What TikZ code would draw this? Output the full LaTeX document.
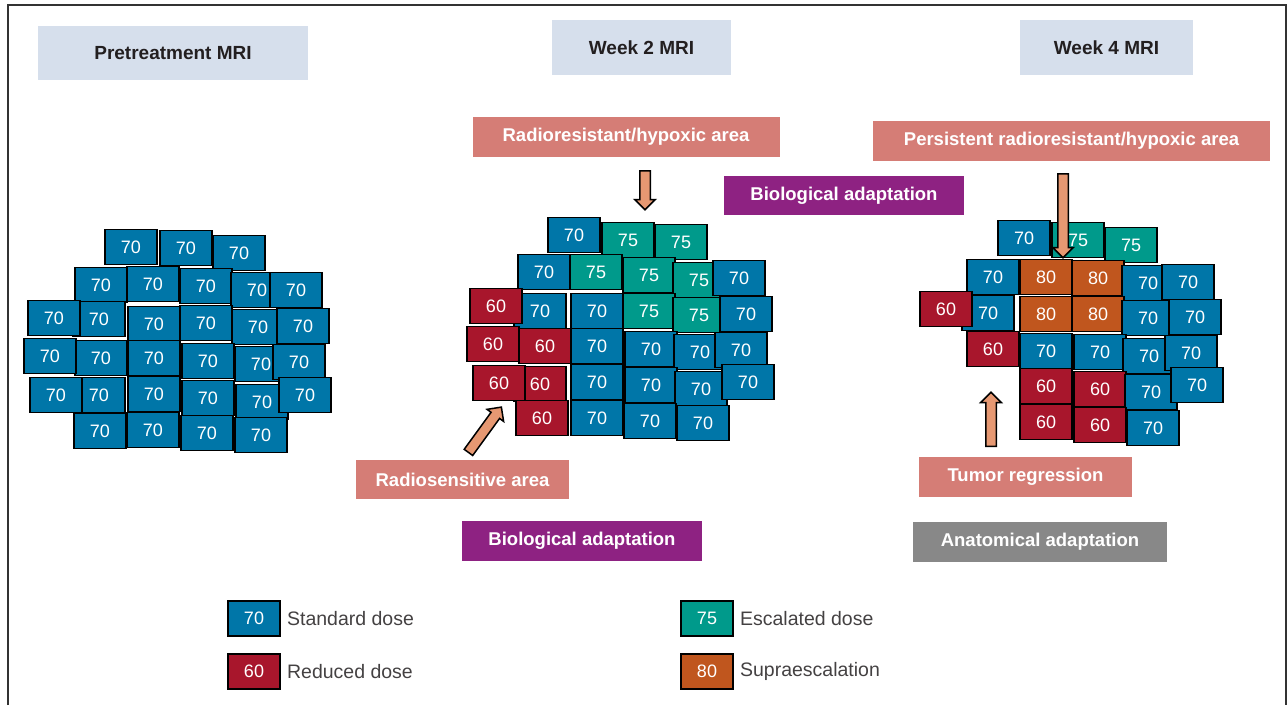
\documentclass[tikz,border=0pt]{standalone}
\usepackage{fontspec}
\setmainfont{Liberation Sans}
\usetikzlibrary{positioning, shapes.arrows}
\definecolor{dose70}{HTML}{0076A8}
\definecolor{dose75}{HTML}{009A8B}
\definecolor{dose60}{HTML}{A8162C}
\definecolor{dose80}{HTML}{C0561E}
\definecolor{head area}{HTML}{D6DFEC}
\definecolor{tag pink}{HTML}{D57D76}
\definecolor{tag purple}{HTML}{8E2282}
\definecolor{tag gray}{HTML}{888888}
\definecolor{arrow area}{HTML}{E69872}
\definecolor{text dark}{HTML}{231F20}
\tikzset{
  cell/.style={draw=black, line width=1.8pt, text=white, inner sep=0pt,
    minimum width=52pt, minimum height=35pt, font=\fontsize{18}{18}\selectfont},
  MRIHead/.style={fill=head area, text=text dark, inner sep=0pt,
    font=\bfseries\fontsize{19}{22}\selectfont},
  TagBox/.style={text=white, inner sep=0pt, minimum height=40pt,
    font=\bfseries\fontsize{18.5}{22}\selectfont},
  LegendText/.style={text=text dark!85, inner sep=2pt, font=\fontsize{19.5}{22}\selectfont},
  BlockArrow/.style={single arrow, draw=black, line width=1.5pt, fill=arrow area,
    inner xsep=0pt, inner ysep=4.5pt, single arrow head extend=5pt, anchor=tail}
}
\begin{document}
\begin{tikzpicture}[x=1pt, y=-1pt]
  \useasboundingbox (0,0) rectangle (1288,705);
  \draw[line width=1.4pt, black!80] (8,705) -- (8,5) -- (1286,5) -- (1286,705);

  % headers
  \node[MRIHead, minimum width=270pt, minimum height=54pt] (preHead) at (173,53) {Pretreatment MRI};
  \node[MRIHead, minimum width=179pt, minimum height=55pt] (wk2Head) at (641.5,47.5) {Week 2 MRI};
  \node[MRIHead, minimum width=173pt, minimum height=55pt] (wk4Head) at (1106.5,47.5) {Week 4 MRI};

  % pretreatment grid
  \foreach \x/\y/\d [count=\i] in {131/247/70, 186/248/70, 239/253/70,
      101/285/70, 153/284/70, 206/286/70, 257/290/70, 296/290/70,
      99/319/70, 54/318/70, 154/324/70, 206/323/70, 258/327/70, 303/326/70,
      101/358/70, 50/356/70, 154/358/70, 208/361/70, 261/364/70, 299/362/70,
      99/395/70, 56/395/70, 154/394/70, 208/398/70, 262/402/70, 305/395/70,
      100/431/70, 153/430/70, 207/433/70, 261/435/70}
    \node[cell, fill=dose\d] (pre\i) at (\x,\y) {\d};

  % week 2 grid
  \foreach \x/\y/\d [count=\i] in {574/235/70, 628/240/75, 681/242/75,
      544/272/70, 596/272/75, 649/275/75, 699/280/75, 739/278/70,
      540/311/70, 496/306/60, 597/311/70, 649/311/75, 699/315/75, 746/314/70,
      493/344/60, 545/346/60, 597/346/70, 651/349/70, 700/352/70, 741/350/70,
      540/384/60, 499/383/60, 597/382/70, 651/385/70, 701/389/70, 748/382/70,
      542/418/60, 597/418/70, 650/421/70, 703/423/70}
    \node[cell, fill=dose\d] (wkb\i) at (\x,\y) {\d};

  % week 4 grid
  \foreach \x/\y/\d [count=\i] in {1024/238/70, 1078/240/75, 1131/245/75,
      993/277/70, 1046/277/80, 1098/278/80, 1148/283/70, 1188/282/70,
      988/313/70, 946/309/60, 1046/314/80, 1098/314/80, 1148/318/70, 1195/317/70,
      993/349/60, 1046/351/70, 1100/352/70, 1149/356/70, 1191/353/70,
      1046/386/60, 1100/389/60, 1151/392/70, 1197/385/70,
      1046/422/60, 1100/425/60, 1153/428/70}
    \node[cell, fill=dose\d] (wkd\i) at (\x,\y) {\d};

  % tags
  \node[TagBox, fill=tag pink, minimum width=307pt] (hypoxTag) at (626,137) {Radioresistant/hypoxic area};
  \node[TagBox, fill=tag pink, minimum width=397pt] (persistTag) at (1071.5,141) {Persistent radioresistant/hypoxic area};
  \node[TagBox, fill=tag purple, minimum width=240pt, minimum height=39pt] (bioTop) at (844,195.5) {Biological adaptation};
  \node[TagBox, fill=tag pink, minimum width=213pt, minimum height=39pt] (sensTag) at (462.5,479.5) {Radiosensitive area};
  \node[TagBox, fill=tag purple, minimum width=240pt] (bioLow) at (582,541) {Biological adaptation};
  \node[TagBox, fill=tag pink, minimum width=213pt] (regressTag) at (1025.5,477) {Tumor regression};
  \node[TagBox, fill=tag gray, minimum width=254pt] (anatTag) at (1040,542) {Anatomical adaptation};

  % arrows
  \node[BlockArrow, minimum height=39pt, rotate=-90] (hypoxArrow) at (645,170) {};
  \node[BlockArrow, minimum height=84pt, rotate=-90] (persistArrow) at (1063,173) {};
  \node[BlockArrow, minimum height=54pt, rotate=90] (regressArrow) at (991,447) {};
  \node[BlockArrow, minimum height=56pt, rotate=54] (sensArrow) at (468,453) {};

  % legend
  \node[cell, fill=dose70] (leg70) at (254,618.5) {70};
  \node[LegendText, right=4pt of leg70] (legStd) {Standard dose};
  \node[cell, fill=dose60] (leg60) at (254,671.5) {60};
  \node[LegendText, right=4pt of leg60] (legRed) {Reduced dose};
  \node[cell, fill=dose75] (leg75) at (707,618.5) {75};
  \node[LegendText, right=4pt of leg75] (legEsc) {Escalated dose};
  \node[cell, fill=dose80] (leg80) at (707,671.5) {80};
  \node[LegendText, right=4pt of leg80] (legSup) {Supraescalation};
\end{tikzpicture}
\end{document}
